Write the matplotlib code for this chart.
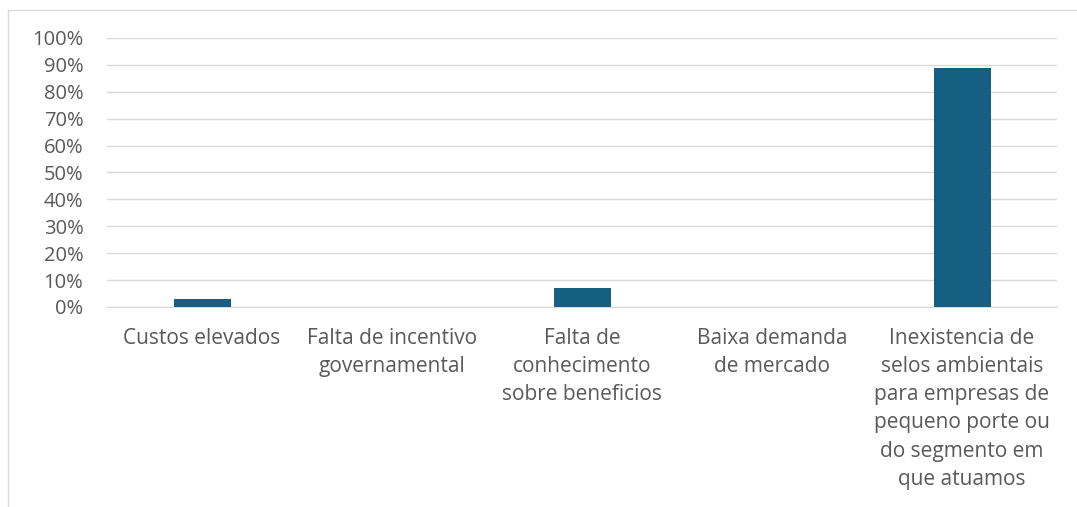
import matplotlib
matplotlib.use("Agg")
import matplotlib.pyplot as plt
from matplotlib.patches import Rectangle
from matplotlib.ticker import PercentFormatter

# categorias e valores (%)
categorias = [
    "Custos elevados",
    "Falta de incentivo\ngovernamental",
    "Falta de\nconhecimento\nsobre beneficios",
    "Baixa demanda\nde mercado",
    "Inexistencia de\nselos ambientais\npara empresas de\npequeno porte ou\ndo segmento em\nque atuamos",
]
valores = [3, 0, 7, 0, 89]
y_ticks = list(range(0, 101, 10))

plt.rcParams['font.family'] = ['Open Sans', 'DejaVu Sans']

fig = plt.figure(figsize=(10.77, 5.07), dpi=100)
ax = fig.add_axes([107 / 1077, 1 - 307 / 507, 950 / 1077, 269 / 507])

# moldura do grafico
fig.patches.append(Rectangle((8 / 1077, -0.1), 1.2, 1 - 10 / 507 + 0.1,
                             transform=fig.transFigure, fill=False,
                             edgecolor='#d9d9d9', linewidth=1))

x = range(len(categorias))
ax.bar(x, valores, width=0.3, color='#156082', zorder=3)

ax.set_xlim(-0.5, len(categorias) - 0.5)
ax.set_ylim(0, 100)
ax.set_yticks(y_ticks)
ax.yaxis.set_major_formatter(PercentFormatter(decimals=0))
ax.set_xticks(list(x))
ax.set_xticklabels(categorias, fontsize=15, color='#595959', linespacing=1.45, va='top')
ax.tick_params(axis='y', labelsize=14.5, labelcolor='#595959', length=0, pad=17)
ax.tick_params(axis='x', length=0, pad=15)
ax.grid(axis='y', color='#d9d9d9', linewidth=1, zorder=0)
for s in ['top', 'right', 'left']:
    ax.spines[s].set_visible(False)
ax.spines['bottom'].set_color('#d9d9d9')

fig.savefig('out.png', dpi=100)
